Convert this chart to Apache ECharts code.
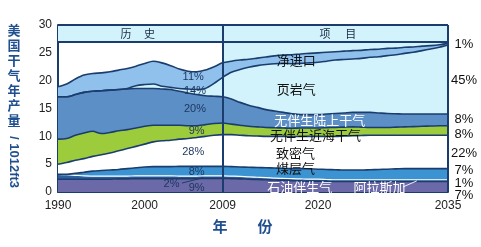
<!DOCTYPE html>
<html><head><meta charset="utf-8">
<script src="https://cdn.jsdelivr.net/npm/echarts@6/dist/echarts.min.js"></script>
<style>html,body{margin:0;padding:0;background:#fff}#c{width:481px;height:247px}</style>
</head><body><div id="c"></div>
<script>
// ---- data (trillion cubic feet), one value per year 1990..2035 ----
const years = [];
for (let y = 1990; y <= 2035; y++) years.push(String(y));
const associated = [2.3,2.3,2.3,2.3,2.3,2.3,2.3,2.35,2.35,2.4,2.4,2.4,2.4,2.4,2.4,2.4,2.4,2.45,2.45,2.45,
  2.4,2.35,2.3,2.25,2.2,2.15,2.1,2.05,2.0,1.95,1.95,1.9,1.9,1.9,1.9,1.9,1.9,1.9,1.9,1.9,1.9,1.9,1.9,1.9,1.9,1.9];
const alaska = [0.85,0.8,0.7,0.6,0.55,0.55,0.55,0.5,0.5,0.5,0.5,0.5,0.5,0.5,0.45,0.45,0.45,0.45,0.45,0.45,
  0.45,0.45,0.4,0.4,0.4,0.35,0.35,0.35,0.35,0.35,0.35,0.35,0.3,0.3,0.3,0.3,0.3,0.3,0.3,0.3,0.3,0.3,0.3,0.3,0.3,0.3];
const coalbed = [0.05,0.1,0.35,0.65,0.9,1.0,1.1,1.2,1.35,1.45,1.6,1.65,1.65,1.65,1.75,1.75,1.75,1.7,1.7,1.7,
  1.7,1.7,1.75,1.75,1.75,1.8,1.8,1.8,1.85,1.85,1.8,1.8,1.8,1.75,1.75,1.75,1.8,1.85,1.9,1.95,2.0,2.0,2.0,2.0,2.0,2.0];
const tight = [1.8,2.1,2.35,2.45,2.65,2.85,3.05,3.35,3.6,3.85,4.1,4.45,4.65,4.75,4.9,5.0,5.2,5.4,5.6,5.7,
  5.75,5.7,5.65,5.65,5.65,5.7,5.75,5.75,5.8,5.85,5.9,5.95,6.0,6.1,6.15,6.2,6.2,6.15,6.1,6.05,6.0,6.0,6.0,6.0,6.0,6.0];
const offshore = [4.5,4.3,4.5,4.6,4.5,3.8,3.7,3.6,3.4,3.3,3.2,3.0,2.8,2.7,2.5,2.3,2.1,2.1,2.1,2.1,
  1.9,1.8,1.7,1.65,1.6,1.55,1.5,1.5,1.5,1.5,1.5,1.55,1.6,1.6,1.6,1.5,1.4,1.4,1.4,1.45,1.5,1.55,1.6,1.65,1.7,1.7];
const onshore = [7.6,7.5,7.3,7.3,7.2,7.7,7.6,7.4,7.3,7.1,6.8,6.6,6.5,6.4,6.1,5.9,5.6,5.2,4.9,4.7,
  4.5,4.1,3.8,3.5,3.2,3.0,2.8,2.6,2.4,2.4,2.4,2.45,2.5,2.55,2.6,2.65,2.7,2.6,2.5,2.4,2.3,2.25,2.2,2.15,2.1,2.1];
const shale = [0,0,0,0,0,0,0,0,0.1,0.5,0.7,0.8,0.5,0.4,0.5,0.7,0.9,1.3,2.3,3.5,
  4.8,5.9,6.8,7.5,8.1,8.5,8.8,9.0,9.2,9.3,9.4,9.5,9.6,9.6,9.6,9.7,9.9,10.1,10.4,10.6,10.9,11.1,11.4,11.7,12.0,12.4];
const netImports = [1.8,2.3,2.8,3.1,3.2,3.2,3.3,3.5,3.6,3.5,3.8,4.1,4.2,3.9,3.5,3.2,3.2,3.3,3.0,2.6,
  2.0,1.7,1.45,1.35,1.35,1.4,1.5,1.6,1.7,1.7,1.7,1.6,1.5,1.5,1.5,1.45,1.4,1.35,1.3,1.2,1.1,0.95,0.8,0.6,0.45,0.3];
const xTickLabels = ['1990', '2000', '2009', '2020', '2035'];
const yTicks = {min: 0, max: 30, interval: 5};
const splitYear = '2009';
const headerValue = 27;
const seriesNames = ['石油伴生气','阿拉斯加','煤层气','致密气','无伴生近海干气','无伴生陆上干气','页岩气','净进口'];
const shares2009 = ['9%','2%','8%','28%','9%','20%','14%','11%'];
const shares2035 = ['7%','1%','7%','22%','8%','8%','45%','1%'];

// ---- styling ----
const NAVY = '#1b3d6e';
const CYAN = '#d2f3fb';
const colors = ['#6b69a8','#2d5f9e','#3b93d1','#ffffff','#9ccb3b','#5c8fc6',CYAN,'#8fc1ec'];
const lineColors = [NAVY,'#ffffff',NAVY,NAVY,NAVY,NAVY,NAVY,NAVY];
const values = [associated, alaska, coalbed, tight, offshore, onshore, shale, netImports];

const chart = echarts.init(document.getElementById('c'));
const series = values.map((arr, i) => ({
  name: seriesNames[i], type: 'line', stack: 'total', symbol: 'none', smooth: 0.3,
  z: 3, data: arr,
  lineStyle: {color: lineColors[i], width: i === 1 ? 1.2 : 1.6},
  areaStyle: {color: colors[i], opacity: 1}
}));
series.unshift({
  type: 'line', data: [], z: 1, silent: true,
  markArea: {silent: true, itemStyle: {color: CYAN},
    data: [[{xAxis: splitYear, yAxis: 0}, {xAxis: '2035', yAxis: headerValue}],
           [{xAxis: '1990', yAxis: headerValue}, {xAxis: '2035', yAxis: 30}]]}
});
series.push({
  type: 'line', data: [], z: 10, silent: true,
  markLine: {silent: true, symbol: 'none', label: {show: false},
    lineStyle: {color: NAVY, width: 2, type: 'solid'},
    data: [{xAxis: splitYear}, {xAxis: '2035'}, {yAxis: headerValue}, {yAxis: 30}]}
});

const numFont = 'Liberation Sans, Arial, sans-serif';
const cjk = '"Noto Sans CJK SC", sans-serif';

chart.setOption({
  animation: false,
  grid: {left: 58, right: 33, top: 25, bottom: 55},
  xAxis: {type: 'category', data: years, boundaryGap: false,
    axisLine: {lineStyle: {color: NAVY, width: 2}}, axisTick: {show: false}, splitLine: {show: false},
    axisLabel: {interval: (idx, val) => xTickLabels.indexOf(val) >= 0, color: '#222', fontSize: 12,
      fontFamily: numFont, margin: 8}},
  yAxis: {type: 'value', min: yTicks.min, max: yTicks.max, interval: yTicks.interval,
    axisLine: {show: true, lineStyle: {color: NAVY, width: 2}}, axisTick: {show: false}, splitLine: {show: false},
    axisLabel: {color: '#222', fontSize: 12, fontFamily: numFont, margin: 6}},
  series: series
});

const n = years.length - 1;
function px(yr, v) {
  const a = chart.convertToPixel({gridIndex: 0}, [0, v]);
  const b = chart.convertToPixel({gridIndex: 0}, [n, v]);
  return [a[0] + (yr - 1990) / n * (b[0] - a[0]), a[1]];
}
const g = [];
function txt(x, y, s, opt) {
  g.push({type: 'text', x: x, y: y, z: 100, silent: true,
    style: Object.assign({text: s, textAlign: 'center', textVerticalAlign: 'middle', fill: '#111', fontSize: 12, fontFamily: numFont}, opt || {})});
}
function dtxt(xv, yv, s, opt) { const p = px(xv, yv); txt(p[0], p[1], s, opt); }
function dline(x1, y1, x2, y2, color) {
  const a = px(x1, y1), b = px(x2, y2);
  g.push({type:'line', z:100, silent:true, shape:{x1:a[0],y1:a[1],x2:b[0],y2:b[1]}, style:{stroke:color, lineWidth:0.9}});
}

// header
dtxt(1999.2, 28.5, '历     史', {fontSize: 11, fontFamily: cjk, fill: '#1a2a44'});
dtxt(2022.3, 28.5, '项      目', {fontSize: 11, fontFamily: cjk, fill: '#1a2a44'});
// 2009 shares
const navyTxt = {fontSize: 11, fill: '#1c355e'};
dtxt(2005.6, 20.7, shares2009[7], navyTxt);
dtxt(2005.8, 18.1, shares2009[6], navyTxt);
dtxt(2005.8, 14.9, shares2009[5], navyTxt);
dtxt(2006.0, 11.0, shares2009[4], navyTxt);
dtxt(2005.6, 7.2, shares2009[3], navyTxt);
dtxt(2006.0, 3.6, shares2009[2], navyTxt);
dtxt(2003.1, 1.4, shares2009[1], navyTxt);
dtxt(2006.0, 0.7, shares2009[0], navyTxt);
dline(2004.3, 1.6, 2006.8, 2.6, '#1c355e');
// projection labels
const cjkB = {fontSize: 13, fontFamily: cjk, fill: '#111'};
dtxt(2017.5, 23.7, seriesNames[7], cjkB);
dtxt(2017.5, 18.5, seriesNames[6], cjkB);
dtxt(2020.2, 12.9, seriesNames[5], Object.assign({}, cjkB, {fill: '#ffffff'}));
dtxt(2019.7, 10.2, seriesNames[4], cjkB);
dtxt(2017.4, 7.0, seriesNames[3], cjkB);
dtxt(2017.4, 4.3, seriesNames[2], cjkB);
dtxt(2017.9, 0.9, seriesNames[0], Object.assign({}, cjkB, {fill: '#ffffff'}));
dtxt(2027.1, 0.9, seriesNames[1], Object.assign({}, cjkB, {fill: '#ffffff'}));
dline(2029.8, 0.9, 2031.4, 2.0, '#ffffff');
// right side 2035 shares
const rY = [26.6, 20.1, 13.1, 10.4, 7.0, 3.8, 1.5, -0.6];
const rIdx = [7, 6, 5, 4, 3, 2, 1, 0];
rIdx.forEach((si, k) => { const p = px(2035, rY[k]); txt(464, p[1], shares2035[si], {fontSize: 13, fill: '#111'}); });

// axis titles
g.push({type:'text', x: 14, y: 23, z: 100, silent: true,
  style:{text:'美\n国\n干\n气\n年\n产\n量', textAlign:'center', textVerticalAlign:'top', fontSize: 13, lineHeight: 15,
  fontWeight:'bold', fontFamily: cjk, fill:'#1f4f8f'}});
g.push({type:'text', x: 14, y: 162, rotation: -Math.PI/2, z: 100, silent: true,
  style:{text:'/ 1012ft3', textAlign:'center', textVerticalAlign:'middle', fontSize: 13, fontWeight:'bold',
  fontFamily: numFont, fill:'#1f4f8f'}});
txt(220, 226, '年', {fontSize: 15, fontWeight: 'bold', fontFamily: cjk, fill: '#1f4f8f'});
txt(265, 226, '份', {fontSize: 15, fontWeight: 'bold', fontFamily: cjk, fill: '#1f4f8f'});

chart.setOption({graphic: g});
</script></body></html>
